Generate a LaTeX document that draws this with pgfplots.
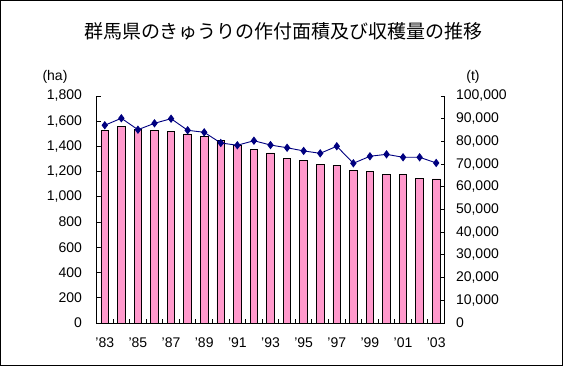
\documentclass[border=0pt]{standalone}
\usepackage{pgfplots}
\pgfplotsset{compat=1.18}
\usepackage{fontspec}
\setmainfont{Liberation Sans}
\newfontfamily\cjk{Noto Sans CJK JP}
\definecolor{barpink}{HTML}{FF99CC}
\definecolor{navyline}{HTML}{000080}

\pgfplotstableread{
x area harvest
0 1528 87100
1 1562 90200
2 1538 85150
3 1528 87970
4 1520 90000
5 1499 84900
6 1480 84000
7 1449 79300
8 1409 78300
9 1377 80300
10 1348 78400
11 1306 77200
12 1285 75800
13 1258 74750
14 1250 77850
15 1213 70350
16 1205 73450
17 1179 74300
18 1179 73000
19 1147 73000
20 1142 70500
}\datatable

\begin{document}
\begin{tikzpicture}[x=1pt,y=1pt]
\useasboundingbox (0,0) rectangle (563,366);
\draw[line width=1pt] (0.5,0.5) rectangle (562.5,365.5);
\node[font=\cjk\fontsize{19}{19}\selectfont] at (283.5,335) {群馬県のきゅうりの作付面積及び収穫量の推移};
\node[font=\fontsize{14}{14}\selectfont] at (55,289) {(ha)};
\node[font=\fontsize{14}{14}\selectfont] at (473,289) {(t)};
\begin{axis}[
  at={(96.5pt,43pt)}, anchor=south west, scale only axis,
  width=348pt, height=227pt,
  xmin=-0.5, xmax=20.5, ymin=0, ymax=1800,
  axis x line*=bottom, axis y line*=left,
  axis line style={line width=0.9pt, black},
  tick style={line width=0.9pt, black},
  tick align=inside, major tick length=4pt, minor tick length=4pt,
  ytick={0,200,...,1800},
  xtick={0,2,...,20},
  xticklabels={’83,’85,’87,’89,’91,’93,’95,’97,’99,’01,’03},
  every major x tick/.style={draw=none},
  minor xtick={0.5,1.5,...,19.5},
  tick label style={font=\fontsize{14}{14}\selectfont},
  /pgf/number format/assume math mode=true,
  yticklabel style={/pgf/number format/fixed, /pgf/number format/1000 sep={,}, xshift=-11pt},
  xticklabel style={yshift=-11pt},
  scaled y ticks=false,
  clip=false,
]
\addplot[ybar, bar width=7.6pt, fill=barpink, draw=black, line width=0.9pt] table[x=x, y=area] {\datatable};
\end{axis}
\begin{axis}[
  at={(96.5pt,43pt)}, anchor=south west, scale only axis,
  width=348pt, height=227pt,
  xmin=-0.5, xmax=20.5, ymin=0, ymax=100000,
  axis x line=none, axis y line*=right,
  axis line style={line width=0.9pt, black},
  tick style={line width=0.9pt, black},
  tick align=inside, major tick length=4pt,
  ytick={0,10000,...,100000},
  tick label style={font=\fontsize{14}{14}\selectfont},
  /pgf/number format/assume math mode=true,
  yticklabel style={/pgf/number format/fixed, /pgf/number format/1000 sep={,}, xshift=8pt},
  scaled y ticks=false,
  clip=false,
]
\addplot[navyline, line width=0.9pt, mark=diamond*, mark size=3.5pt, mark options={fill=navyline, draw=navyline}] table[x=x, y=harvest] {\datatable};
\end{axis}
\end{tikzpicture}
\end{document}
